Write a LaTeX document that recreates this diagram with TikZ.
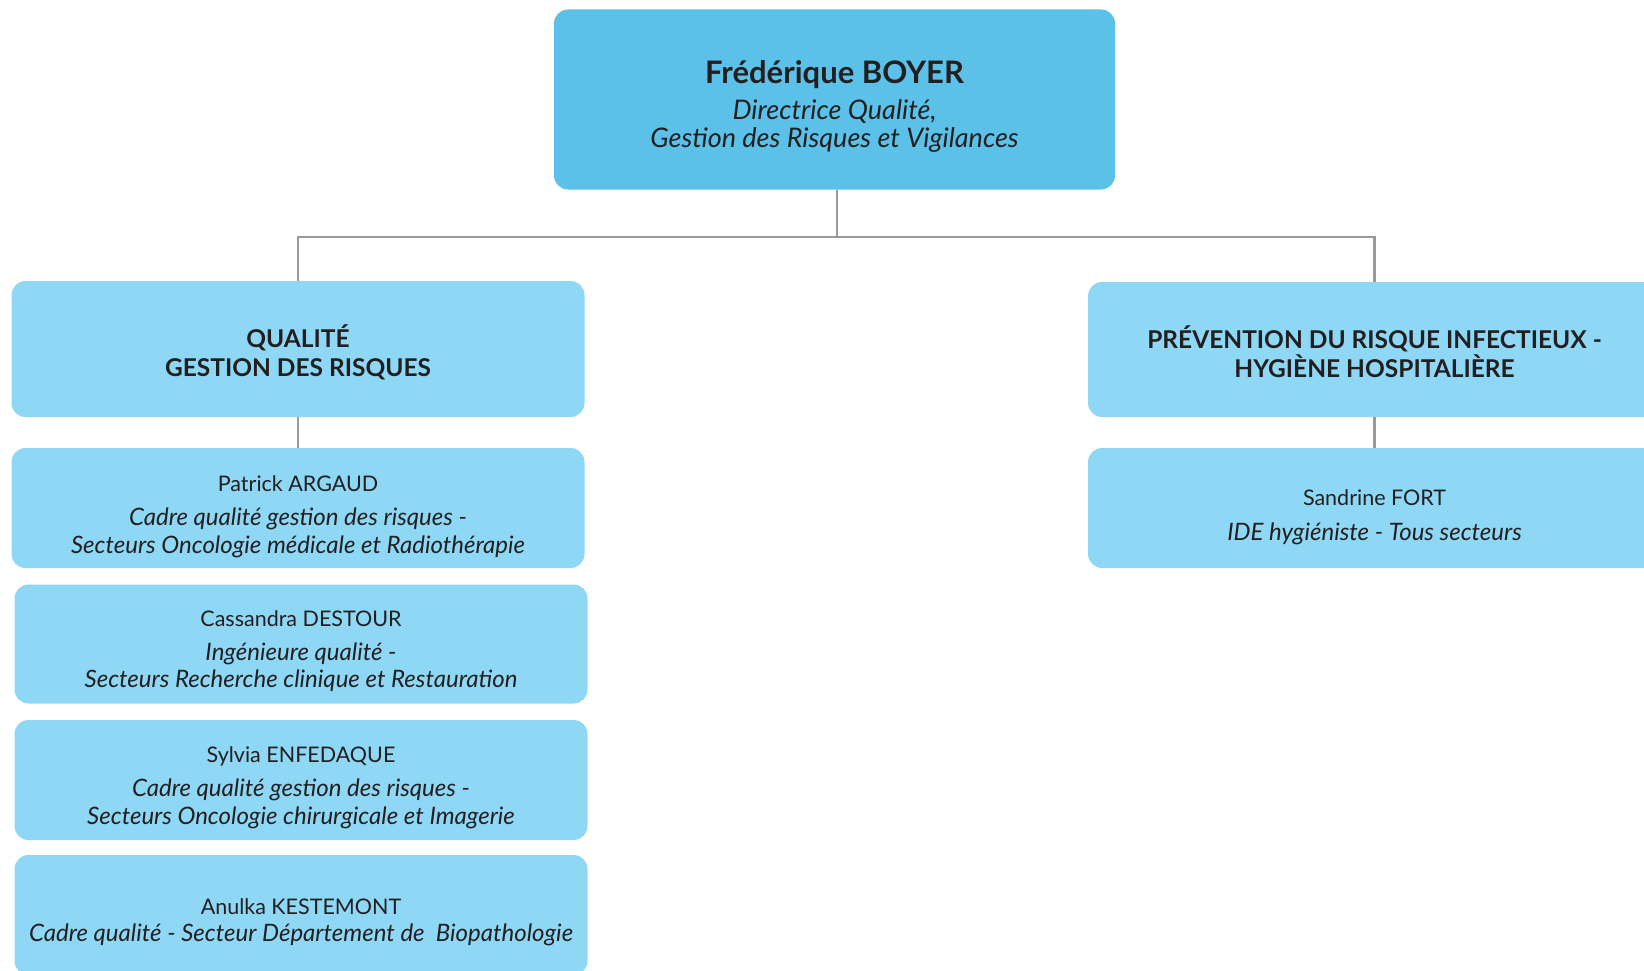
\documentclass[tikz,border=0pt]{standalone}
\usepackage{fontspec}
\setmainfont{Lato}
\definecolor{topblue}{HTML}{5BC1E8}
\definecolor{lightblue}{HTML}{8ED8F6}
\definecolor{linegray}{HTML}{9A9A9A}
\definecolor{txt}{HTML}{231F20}
\newcommand{\pname}[1]{{\fontsize{21.5pt}{24pt}\selectfont\upshape #1}}
\tikzset{
  card/.style={rectangle, rounded corners=14pt, fill=lightblue, draw=none, inner sep=0pt, minimum width=573pt},
  topcard/.style={card, fill=topblue, minimum width=561pt, minimum height=180pt},
  conn/.style={draw=linegray, line width=2.6pt},
  label/.style={align=center, text=txt, inner sep=0pt},
  body/.style={label, font=\fontsize{24pt}{27.3pt}\selectfont\itshape},
  head/.style={label, font=\fontsize{24.5pt}{29.4pt}\selectfont\bfseries}
}
\begin{document}
\begin{tikzpicture}[x=1pt,y=-1pt]
\useasboundingbox (0,0) rectangle (1644,971);
\clip (0,0) rectangle (1644,971);
\fill[white] (0,0) rectangle (1644,971);

\node[topcard] (top) at (834.5,99.5) {};
\node[label, font=\fontsize{27pt}{27.3pt}\selectfont\itshape] (top-t) at ([yshift=-7pt]top.center) {{\fontsize{31pt}{31pt}\selectfont\upshape\bfseries Frédérique BOYER}\\[8.8pt]Directrice Qualité,\\Gestion des Risques et Vigilances};

\node[card, minimum height=136pt] (qual) at (298,349) {};
\node[head] (qual-t) at ([yshift=-3.3pt]qual.center) {QUALITÉ\\GESTION DES RISQUES};
\node[card, minimum height=135pt] (prev) at (1374.5,349.5) {};
\node[head] (prev-t) at ([yshift=-2pt]prev.center) {PRÉVENTION DU RISQUE INFECTIEUX -\\HYGIÈNE HOSPITALIÈRE};

\node[card, minimum height=120pt] (patrick) at (298,508) {};
\node[body] (patrick-t) at ([yshift=-8.5pt]patrick.center) {\pname{Patrick ARGAUD}\\[7pt]Cadre qualité gestion des risques -\\Secteurs Oncologie médicale et Radiothérapie};

\node[card, minimum height=119pt] (cassandra) at (301,644) {};
\node[body] (cassandra-t) at ([yshift=-7pt]cassandra.center) {\pname{Cassandra DESTOUR}\\[7pt]Ingénieure qualité -\\Secteurs Recherche clinique et Restauration};

\node[card, minimum height=120pt] (sylvia) at (301,780) {};
\node[body] (sylvia-t) at ([yshift=-7.5pt]sylvia.center) {\pname{Sylvia ENFEDAQUE}\\[7pt]Cadre qualité gestion des risques -\\Secteurs Oncologie chirurgicale et Imagerie};

\node[card, minimum height=120pt] (anulka) at (301,915) {};
\node[body] (anulka-t) at ([yshift=-7.5pt]anulka.center) {\pname{Anulka KESTEMONT}\\Cadre qualité - Secteur Département de\ \ Biopathologie};

\node[card, minimum height=120pt] (sandrine) at (1374.5,508) {};
\node[body] (sandrine-t) at ([yshift=-9pt]sandrine.center) {\pname{Sandrine FORT}\\[8pt]IDE hygiéniste - Tous secteurs};

\coordinate (bus) at (837,237);
\draw[conn] (top.south -| bus) -- (bus);
\draw[conn] (qual.north) -- (qual.north |- bus) -- (prev.north |- bus) -- (prev.north);
\draw[conn] (qual.south) -- (patrick.north);
\draw[conn] (prev.south) -- (sandrine.north);
\end{tikzpicture}
\end{document}
